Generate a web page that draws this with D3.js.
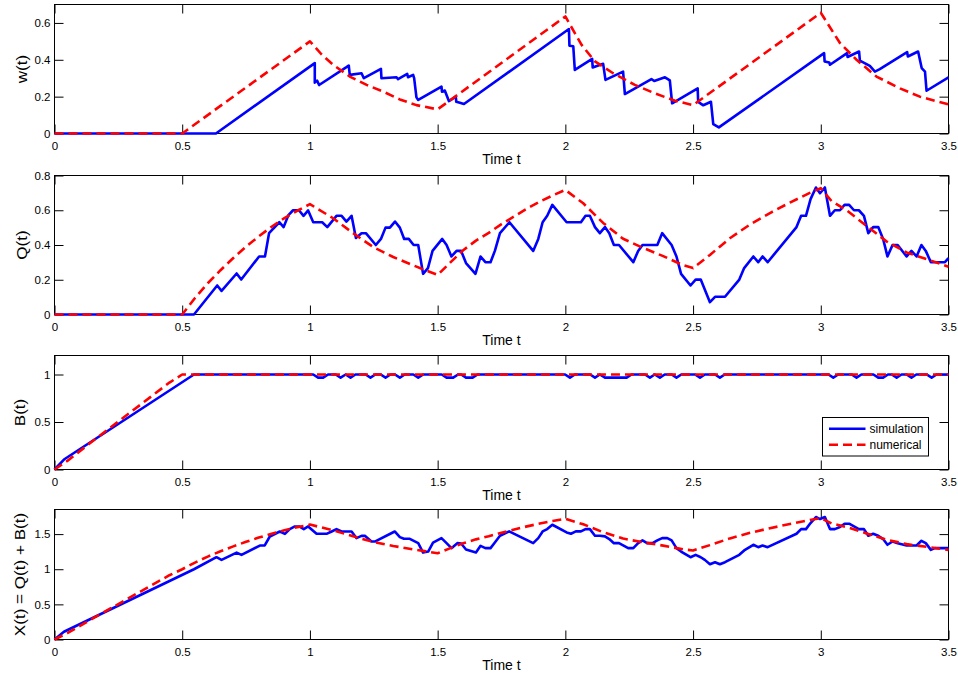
<!DOCTYPE html>
<html>
<head>
<meta charset="utf-8">
<script src="https://cdn.jsdelivr.net/npm/d3@7"></script>
<style>
  body { margin: 0; background: #fff; }
  svg { display: block; }
  text { font-family: "Liberation Sans", Arial, Helvetica, sans-serif; fill: #000; }
  .tick text { font-size: 11.5px; }
  .tick line { stroke: #000; }
</style>
</head>
<body>
<svg id="chart" width="958" height="677"></svg>
<script>
// ---- shared axis ticks ----
const timeTicks = [0, 0.5, 1, 1.5, 2, 2.5, 3, 3.5];
const wTicks = [0, 0.2, 0.4, 0.6];
const qTicks = [0, 0.2, 0.4, 0.6, 0.8];
const bTicks = [0, 0.5, 1];
const xTicks = [0, 0.5, 1, 1.5];

// ---- waiting time w(t): [t, value] ----
const wSim = [[0,0],[0.632,0],[1.019,0.382],[1.019,0.276],[1.028,0.287],[1.036,0.263],[1.143,0.36],[1.152,0.369],
  [1.156,0.318],[1.202,0.327],[1.211,0.300],[1.278,0.351],[1.280,0.300],[1.339,0.305],[1.345,0.295],[1.381,0.323],
  [1.384,0.305],[1.404,0.318],[1.408,0.300],[1.417,0.196],[1.424,0.182],[1.515,0.254],[1.517,0.227],[1.528,0.233],
  [1.544,0.176],[1.571,0.200],[1.573,0.172],[1.587,0.167],[1.603,0.160],[2.014,0.567],[2.016,0.476],[2.031,0.473],
  [2.037,0.345],[2.105,0.405],[2.107,0.358],[2.148,0.378],[2.157,0.291],[2.226,0.336],[2.233,0.214],[2.337,0.295],
  [2.348,0.285],[2.390,0.305],[2.409,0.288],[2.418,0.164],[2.518,0.245],[2.520,0.172],[2.540,0.153],[2.570,0.172],
  [2.579,0.051],[2.601,0.033],[3.013,0.436],[3.015,0.391],[3.033,0.385],[3.036,0.373],[3.103,0.436],[3.105,0.415],
  [3.150,0.445],[3.153,0.396],[3.192,0.367],[3.212,0.336],[3.231,0.349],[3.338,0.442],[3.341,0.418],[3.381,0.445],
  [3.395,0.355],[3.408,0.336],[3.414,0.232],[3.5,0.305]];
const wNum = [[0,0],[0.5,0],[1.0,0.5],[1.045,0.43],[1.091,0.373],[1.156,0.309],[1.222,0.264],[1.287,0.227],
  [1.352,0.185],[1.417,0.154],[1.5,0.131],[2.0,0.635],[2.063,0.482],[2.116,0.391],[2.187,0.327],[2.272,0.264],
  [2.35,0.218],[2.429,0.178],[2.5,0.154],[3.0,0.655],[3.075,0.491],[3.14,0.4],[3.218,0.309],[3.31,0.245],
  [3.388,0.2],[3.5,0.158]];

// ---- queue Q(t) ----
const qSim = [[0,0],[0.546,0],[0.637,0.167],[0.654,0.136],[0.713,0.236],[0.731,0.201],[0.801,0.334],[0.824,0.334],
  [0.840,0.468],[0.880,0.531],[0.897,0.503],[0.915,0.570],[0.934,0.600],[0.957,0.600],[0.975,0.568],[0.993,0.599],
  [1.013,0.531],[1.048,0.531],[1.068,0.503],[1.104,0.568],[1.124,0.568],[1.143,0.535],[1.163,0.568],[1.180,0.440],
  [1.202,0.468],[1.219,0.468],[1.258,0.400],[1.278,0.435],[1.296,0.500],[1.313,0.500],[1.333,0.535],[1.352,0.500],
  [1.369,0.435],[1.387,0.435],[1.406,0.400],[1.424,0.400],[1.443,0.234],[1.462,0.267],[1.480,0.366],[1.518,0.435],
  [1.535,0.400],[1.554,0.334],[1.574,0.366],[1.592,0.366],[1.611,0.296],[1.648,0.234],[1.668,0.334],[1.687,0.301],
  [1.707,0.301],[1.724,0.366],[1.744,0.468],[1.781,0.531],[1.874,0.366],[1.894,0.435],[1.911,0.531],[1.929,0.568],
  [1.949,0.631],[2.005,0.531],[2.061,0.531],[2.079,0.568],[2.096,0.568],[2.116,0.503],[2.135,0.468],[2.155,0.503],
  [2.172,0.468],[2.190,0.400],[2.210,0.400],[2.266,0.301],[2.285,0.366],[2.302,0.400],[2.360,0.400],[2.379,0.468],
  [2.416,0.400],[2.435,0.334],[2.453,0.234],[2.490,0.167],[2.510,0.201],[2.530,0.201],[2.566,0.071],[2.586,0.102],
  [2.625,0.102],[2.681,0.201],[2.700,0.267],[2.736,0.334],[2.755,0.301],[2.772,0.334],[2.792,0.301],[2.905,0.503],
  [2.923,0.568],[2.942,0.568],[2.960,0.664],[2.981,0.731],[2.997,0.698],[3.016,0.731],[3.036,0.568],[3.055,0.600],
  [3.075,0.600],[3.093,0.631],[3.111,0.631],[3.130,0.600],[3.149,0.600],[3.169,0.568],[3.186,0.468],[3.205,0.503],
  [3.225,0.503],[3.244,0.435],[3.261,0.334],[3.281,0.400],[3.301,0.400],[3.336,0.334],[3.355,0.366],[3.375,0.334],
  [3.394,0.400],[3.411,0.366],[3.431,0.301],[3.486,0.301],[3.5,0.324]];
const qNum = [[0,0],[0.5,0],[0.55,0.095],[0.6,0.18],[0.65,0.255],[0.7,0.325],[0.75,0.39],[0.8,0.45],[0.85,0.505],
  [0.9,0.555],[0.95,0.597],[1.0,0.635],[1.091,0.554],[1.169,0.468],[1.248,0.388],[1.326,0.331],[1.404,0.283],
  [1.47,0.245],[1.5,0.228],
  [1.55,0.30],[1.6,0.37],[1.65,0.425],[1.7,0.47],[1.75,0.52],[1.8,0.565],[1.85,0.61],[1.9,0.65],[1.95,0.685],
  [2.0,0.717],[2.07,0.64],[2.148,0.527],[2.226,0.436],[2.305,0.383],[2.383,0.336],[2.461,0.284],[2.5,0.267],
  [2.566,0.343],[2.644,0.439],[2.723,0.518],[2.801,0.584],[2.879,0.644],[2.957,0.70],[3.0,0.727],[3.042,0.653],
  [3.101,0.60],[3.179,0.51],[3.258,0.42],[3.336,0.357],[3.414,0.319],[3.5,0.275]];

// ---- busy fraction B(t) ----
const bSim = [[0,0],[0.037,0.105],[0.546,1],
  [1.013,1],[1.032,0.967],[1.052,0.967],[1.071,1],
  [1.101,1],[1.12,0.967],[1.14,1],[1.159,0.967],[1.178,1],
  [1.218,1],[1.237,0.967],[1.256,1],[1.277,1],[1.296,0.967],[1.315,1],
  [1.333,1],[1.352,0.967],[1.371,1],[1.405,1],[1.424,0.967],[1.443,1],
  [1.516,1],[1.535,0.967],[1.561,0.967],[1.58,1],[1.592,1],[1.611,0.967],[1.637,0.967],[1.656,1],
  [1.999,1],[2.018,0.967],[2.037,1],[2.097,1],[2.116,0.967],[2.135,1],[2.155,0.967],[2.24,0.967],[2.259,1],
  [2.312,1],[2.331,0.967],[2.35,1],[2.37,0.967],[2.389,1],[2.416,1],[2.435,0.967],[2.454,1],
  [2.508,1],[2.527,0.967],[2.546,1],[2.586,1],[2.605,0.967],[2.624,1],
  [3.03,1],[3.049,0.967],[3.068,1],[3.121,1],[3.14,0.967],[3.159,1],
  [3.206,1],[3.225,0.967],[3.244,0.967],[3.263,1],[3.278,1],[3.297,0.967],[3.316,1],
  [3.336,1],[3.355,0.967],[3.374,1],[3.415,1],[3.434,0.967],[3.453,1],[3.5,1]];
const bNum = [[0,0],[0.05,0.09],[0.15,0.30],[0.25,0.505],[0.35,0.71],[0.45,0.915],[0.5,1],[3.5,1]];

// ---- total X(t) = Q(t) + B(t) ----
const xSim = [[0,0],[0.037,0.11],[0.546,1.0],[0.634,1.171],[0.654,1.133],[0.713,1.237],[0.732,1.204],[0.804,1.337],
  [0.823,1.340],[0.843,1.466],[0.882,1.537],[0.902,1.504],[0.921,1.571],[0.941,1.609],[0.958,1.609],[0.976,1.571],
  [0.993,1.609],[1.026,1.504],[1.065,1.504],[1.085,1.537],[1.104,1.571],[1.124,1.537],[1.163,1.537],[1.182,1.443],
  [1.202,1.475],[1.215,1.475],[1.241,1.394],[1.254,1.394],[1.332,1.537],[1.352,1.457],[1.368,1.433],[1.391,1.433],
  [1.424,1.371],[1.443,1.237],[1.463,1.252],[1.482,1.380],[1.515,1.443],[1.535,1.371],[1.554,1.300],[1.577,1.371],
  [1.592,1.366],[1.611,1.28],[1.650,1.238],[1.668,1.333],[1.687,1.3],[1.707,1.3],[1.724,1.381],[1.744,1.476],
  [1.780,1.538],[1.874,1.371],[1.894,1.443],[1.911,1.538],[1.929,1.571],[1.949,1.633],[2.005,1.524],[2.022,1.505],
  [2.041,1.538],[2.061,1.538],[2.079,1.571],[2.096,1.571],[2.116,1.476],[2.135,1.476],[2.155,1.467],[2.172,1.429],
  [2.190,1.371],[2.210,1.371],[2.246,1.3],[2.266,1.3],[2.285,1.371],[2.302,1.41],[2.320,1.371],[2.341,1.371],
  [2.360,1.41],[2.379,1.443],[2.399,1.443],[2.416,1.41],[2.435,1.3],[2.453,1.252],[2.490,1.171],[2.510,1.205],
  [2.530,1.171],[2.546,1.133],[2.566,1.071],[2.586,1.1],[2.605,1.071],[2.625,1.1],[2.681,1.205],[2.700,1.267],
  [2.736,1.348],[2.755,1.314],[2.772,1.338],[2.792,1.314],[2.905,1.505],[2.923,1.571],[2.942,1.571],[2.960,1.657],
  [2.981,1.743],[2.997,1.714],[3.016,1.743],[3.036,1.571],[3.055,1.571],[3.075,1.6],[3.093,1.648],[3.111,1.648],
  [3.130,1.61],[3.149,1.571],[3.169,1.571],[3.186,1.476],[3.205,1.505],[3.225,1.476],[3.244,1.429],[3.261,1.348],
  [3.281,1.395],[3.301,1.371],[3.336,1.338],[3.355,1.338],[3.375,1.338],[3.394,1.405],[3.411,1.371],[3.431,1.276],
  [3.447,1.3],[3.5,1.3]];
const xNum = [[0,0],[0.05,0.09],[0.15,0.30],[0.25,0.505],[0.35,0.71],[0.45,0.915],[0.5,1.0],[0.55,1.095],
  [0.6,1.18],[0.65,1.255],[0.7,1.325],[0.75,1.39],[0.8,1.45],[0.85,1.505],[0.9,1.555],[0.95,1.597],[1.0,1.635],
  [1.091,1.554],[1.169,1.468],[1.248,1.388],[1.326,1.331],[1.404,1.283],[1.47,1.245],[1.5,1.228],[1.55,1.30],
  [1.6,1.37],[1.65,1.425],[1.7,1.47],[1.75,1.52],[1.8,1.565],[1.85,1.61],[1.9,1.65],[1.95,1.685],[2.0,1.717],
  [2.07,1.64],[2.148,1.527],[2.226,1.436],[2.305,1.383],[2.383,1.336],[2.461,1.284],[2.5,1.267],[2.566,1.343],
  [2.644,1.439],[2.723,1.518],[2.801,1.584],[2.879,1.644],[2.957,1.70],[3.0,1.727],[3.042,1.653],[3.101,1.60],
  [3.179,1.51],[3.258,1.42],[3.336,1.357],[3.414,1.319],[3.5,1.275]];

const seriesNames = ["simulation", "numerical"];

// ---- layout ----
const left = 54.5, right = 948.5;
const panels = [
  { label: "w(t)", top: 4.5, bottom: 133.5, yMax: 0.7, ticks: wTicks, sim: wSim, num: wNum, labelX: 22.5 },
  { label: "Q(t)", top: 175.5, bottom: 314.5, yMax: 0.8, ticks: qTicks, sim: qSim, num: qNum, labelX: 22 },
  { label: "B(t)", top: 355.5, bottom: 469.5, yMax: 1.2, ticks: bTicks, sim: bSim, num: bNum, labelX: 20.5, legend: true },
  { label: "X(t) = Q(t) + B(t)", top: 509.5, bottom: 639.5, yMax: 1.85, ticks: xTicks, sim: xSim, num: xNum, labelX: 19.7 }
];

const svg = d3.select("#chart");
const x = d3.scaleLinear().domain([0, 3.5]).range([left, right]);
const fmt = d3.format("~g");
const tickLen = 9;

panels.forEach(p => {
  const y = d3.scaleLinear().domain([0, p.yMax]).range([p.bottom, p.top]);
  const g = svg.append("g");

  // axes: inward ticks on all four sides, labels on bottom and left
  const addAxis = (axis, tx, ty) => {
    const a = g.append("g").attr("transform", `translate(${tx},${ty})`).call(axis);
    a.attr("font-size", null).attr("font-family", null);
    a.select(".domain").remove();
    return a;
  };
  addAxis(d3.axisBottom(x).tickValues(timeTicks).tickFormat(fmt).tickSizeInner(-tickLen).tickSizeOuter(0).tickPadding(8), 0, p.bottom);
  addAxis(d3.axisTop(x).tickValues(timeTicks).tickFormat("").tickSizeInner(-tickLen).tickSizeOuter(0), 0, p.top);
  addAxis(d3.axisLeft(y).tickValues(p.ticks).tickFormat(fmt).tickSizeInner(-tickLen).tickSizeOuter(0).tickPadding(4), left, 0);
  addAxis(d3.axisRight(y).tickValues(p.ticks).tickFormat("").tickSizeInner(-tickLen).tickSizeOuter(0), right, 0);

  g.append("rect")
    .attr("x", left).attr("y", p.top)
    .attr("width", right - left).attr("height", p.bottom - p.top)
    .attr("fill", "none").attr("stroke", "#000").attr("stroke-width", 1);

  const line = d3.line().x(d => x(d[0])).y(d => y(d[1]));
  g.append("path").datum(p.sim).attr("d", line)
    .attr("fill", "none").attr("stroke", "#0000ff").attr("stroke-width", 2.6)
    .attr("stroke-linejoin", "round");
  g.append("path").datum(p.num).attr("d", line)
    .attr("fill", "none").attr("stroke", "#ff0000").attr("stroke-width", 2.6)
    .attr("stroke-dasharray", "9,5").attr("stroke-linejoin", "round");

  // x label
  g.append("text")
    .attr("x", (left + right) / 2).attr("y", p.bottom + 30.7)
    .attr("text-anchor", "middle").style("font-size", "14px")
    .text("Time t");

  // y label, rotated
  g.append("text")
    .attr("transform", `translate(${p.labelX},${(p.top + p.bottom) / 2}) scale(1,1.22) rotate(-90)`)
    .attr("text-anchor", "middle").attr("dominant-baseline", "central")
    .style("font-size", "14px")
    .text(p.label);

  if (p.legend) {
    const lg = g.append("g").attr("transform", "translate(822.5,417.5)");
    lg.append("rect").attr("width", 106).attr("height", 38.5)
      .attr("fill", "#fff").attr("stroke", "#000").attr("stroke-width", 1);
    const styles = [
      { stroke: "#0000ff", dash: null },
      { stroke: "#ff0000", dash: "9,5" }
    ];
    seriesNames.forEach((name, i) => {
      const yy = 11.2 + i * 16;
      lg.append("line").attr("x1", 6.5).attr("x2", 43).attr("y1", yy).attr("y2", yy)
        .attr("stroke", styles[i].stroke).attr("stroke-width", 2.6)
        .attr("stroke-dasharray", styles[i].dash);
      lg.append("text").attr("x", 47).attr("y", yy).attr("dy", "0.35em")
        .style("font-size", "12px").text(name);
    });
  }
});
</script>
</body>
</html>
